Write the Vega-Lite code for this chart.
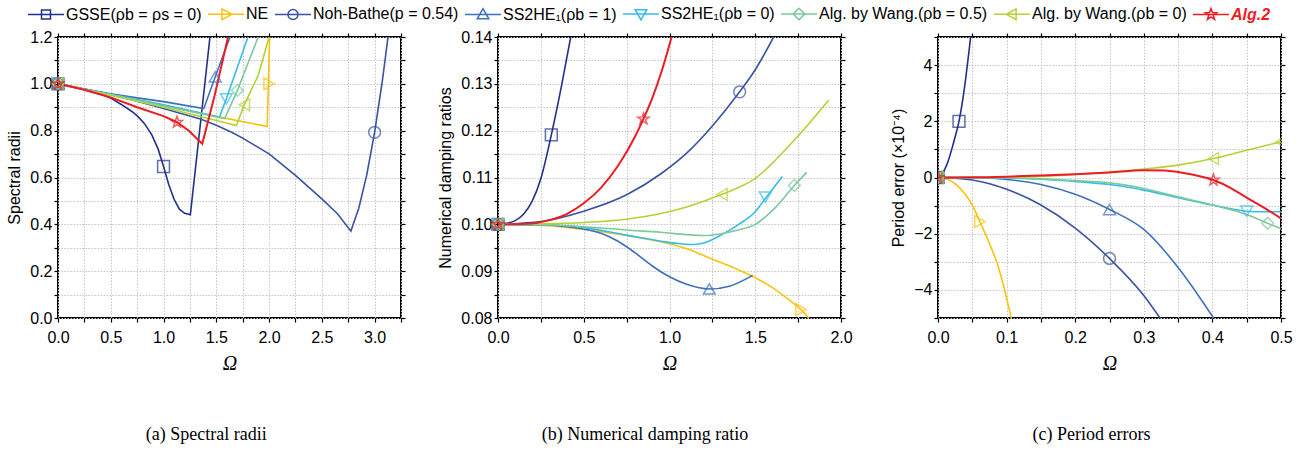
{
  "$schema": "https://vega.github.io/schema/vega-lite/v6.json",
  "padding": {"left": 5, "top": 0, "right": 10, "bottom": 2},
  "config": {
    "view": {"stroke": "black", "strokeWidth": 2},
    "font": "Liberation Sans",
    "axis": {"labelFont": "Liberation Sans", "labelFontSize": 16, "labelColor": "black", "tickColor": "black", "tickSize": 4, "tickWidth": 1.2, "domain": false, "gridColor": "#c4c4c4", "gridDash": [1.5, 1.5], "gridWidth": 1, "titleFont": "Liberation Sans", "titleFontSize": 16, "titleFontWeight": "normal", "titleColor": "black", "labelPadding": 2, "titlePadding": 7, "labelFlush": false, "labelOverlap": false, "labelBound": false},
    "axisX": {"titleFont": "Liberation Serif", "titleFontStyle": "italic", "titleFontSize": 20, "labelPadding": 7, "titlePadding": 8},
    "title": {"font": "Liberation Serif", "fontSize": 18, "fontWeight": "normal", "color": "black"}
  },
  "datasets": {
    "a": [
      {"s": "GSSE", "x": 0, "y": 1}, {"s": "GSSE", "x": 0.1, "y": 0.992}, {"s": "GSSE", "x": 0.25, "y": 0.975}, {"s": "GSSE", "x": 0.4, "y": 0.955}, {"s": "GSSE", "x": 0.5, "y": 0.939}, {"s": "GSSE", "x": 0.6, "y": 0.912}, {"s": "GSSE", "x": 0.7, "y": 0.882}, {"s": "GSSE", "x": 0.756, "y": 0.861}, {"s": "GSSE", "x": 0.82, "y": 0.83}, {"s": "GSSE", "x": 0.889, "y": 0.782}, {"s": "GSSE", "x": 0.95, "y": 0.72}, {"s": "GSSE", "x": 1.0, "y": 0.647}, {"s": "GSSE", "x": 1.05, "y": 0.569}, {"s": "GSSE", "x": 1.1, "y": 0.507}, {"s": "GSSE", "x": 1.15, "y": 0.465}, {"s": "GSSE", "x": 1.2, "y": 0.447}, {"s": "GSSE", "x": 1.254, "y": 0.441}, {"s": "GSSE", "x": 1.44, "y": 1.2},
      {"s": "NE", "x": 0, "y": 1}, {"s": "NE", "x": 0.25, "y": 0.977}, {"s": "NE", "x": 0.5, "y": 0.954}, {"s": "NE", "x": 1.0, "y": 0.908}, {"s": "NE", "x": 1.357, "y": 0.874}, {"s": "NE", "x": 1.7, "y": 0.843}, {"s": "NE", "x": 1.982, "y": 0.818}, {"s": "NE", "x": 2.005, "y": 1.2},
      {"s": "NB", "x": 0, "y": 1}, {"s": "NB", "x": 0.25, "y": 0.978}, {"s": "NB", "x": 0.5, "y": 0.954}, {"s": "NB", "x": 0.75, "y": 0.926}, {"s": "NB", "x": 1.0, "y": 0.895}, {"s": "NB", "x": 1.357, "y": 0.849}, {"s": "NB", "x": 1.5, "y": 0.823}, {"s": "NB", "x": 1.65, "y": 0.792}, {"s": "NB", "x": 1.75, "y": 0.768}, {"s": "NB", "x": 2.0, "y": 0.701}, {"s": "NB", "x": 2.25, "y": 0.609}, {"s": "NB", "x": 2.5, "y": 0.509}, {"s": "NB", "x": 2.65, "y": 0.444}, {"s": "NB", "x": 2.775, "y": 0.371}, {"s": "NB", "x": 2.85, "y": 0.469}, {"s": "NB", "x": 2.925, "y": 0.61}, {"s": "NB", "x": 3.0, "y": 0.793}, {"s": "NB", "x": 3.075, "y": 1.018}, {"s": "NB", "x": 3.127, "y": 1.2},
      {"s": "SS1", "x": 0, "y": 1}, {"s": "SS1", "x": 0.25, "y": 0.978}, {"s": "SS1", "x": 0.5, "y": 0.958}, {"s": "SS1", "x": 0.75, "y": 0.94}, {"s": "SS1", "x": 1.0, "y": 0.924}, {"s": "SS1", "x": 1.381, "y": 0.894}, {"s": "SS1", "x": 1.49, "y": 1.03}, {"s": "SS1", "x": 1.63, "y": 1.2},
      {"s": "SS0", "x": 0, "y": 1}, {"s": "SS0", "x": 0.25, "y": 0.977}, {"s": "SS0", "x": 0.5, "y": 0.955}, {"s": "SS0", "x": 1.0, "y": 0.91}, {"s": "SS0", "x": 1.53, "y": 0.858}, {"s": "SS0", "x": 1.595, "y": 0.936}, {"s": "SS0", "x": 1.8, "y": 1.2},
      {"s": "W05", "x": 0, "y": 1}, {"s": "W05", "x": 0.25, "y": 0.977}, {"s": "W05", "x": 0.5, "y": 0.954}, {"s": "W05", "x": 1.0, "y": 0.905}, {"s": "W05", "x": 1.579, "y": 0.852}, {"s": "W05", "x": 1.7, "y": 0.972}, {"s": "W05", "x": 1.897, "y": 1.2},
      {"s": "W0", "x": 0, "y": 1}, {"s": "W0", "x": 0.25, "y": 0.976}, {"s": "W0", "x": 0.5, "y": 0.951}, {"s": "W0", "x": 1.0, "y": 0.9}, {"s": "W0", "x": 1.69, "y": 0.822}, {"s": "W0", "x": 1.766, "y": 0.911}, {"s": "W0", "x": 1.897, "y": 1.036}, {"s": "W0", "x": 2.0, "y": 1.2},
      {"s": "ALG2", "x": 0, "y": 1}, {"s": "ALG2", "x": 0.25, "y": 0.975}, {"s": "ALG2", "x": 0.5, "y": 0.942}, {"s": "ALG2", "x": 0.75, "y": 0.9}, {"s": "ALG2", "x": 1.0, "y": 0.862}, {"s": "ALG2", "x": 1.127, "y": 0.836}, {"s": "ALG2", "x": 1.24, "y": 0.8}, {"s": "ALG2", "x": 1.367, "y": 0.744}, {"s": "ALG2", "x": 1.484, "y": 0.95}, {"s": "ALG2", "x": 1.611, "y": 1.2}
    ],
    "am": [
      {"s": "GSSE", "x": 0, "y": 1}, {"s": "NE", "x": 0, "y": 1}, {"s": "NB", "x": 0, "y": 1}, {"s": "SS1", "x": 0, "y": 1}, {"s": "SS0", "x": 0, "y": 1}, {"s": "W05", "x": 0, "y": 1}, {"s": "W0", "x": 0, "y": 1}, {"s": "ALG2", "x": 0, "y": 1},
      {"s": "GSSE", "x": 1.0, "y": 0.647}, {"s": "NE", "x": 2.0, "y": 1.0}, {"s": "NB", "x": 3.0, "y": 0.793}, {"s": "SS1", "x": 1.49, "y": 1.03}, {"s": "SS0", "x": 1.595, "y": 0.936}, {"s": "W05", "x": 1.7, "y": 0.972}, {"s": "W0", "x": 1.766, "y": 0.911}, {"s": "ALG2", "x": 1.127, "y": 0.836}
    ],
    "b": [
      {"s": "GSSE", "x": 0, "y": 0.1}, {"s": "GSSE", "x": 0.05, "y": 0.1002}, {"s": "GSSE", "x": 0.1, "y": 0.1008}, {"s": "GSSE", "x": 0.15, "y": 0.1022}, {"s": "GSSE", "x": 0.2, "y": 0.105}, {"s": "GSSE", "x": 0.25, "y": 0.1098}, {"s": "GSSE", "x": 0.311, "y": 0.1191}, {"s": "GSSE", "x": 0.37, "y": 0.1295}, {"s": "GSSE", "x": 0.424, "y": 0.14},
      {"s": "NE", "x": 0, "y": 0.1}, {"s": "NE", "x": 0.25, "y": 0.0998}, {"s": "NE", "x": 0.5, "y": 0.0989}, {"s": "NE", "x": 0.75, "y": 0.0976}, {"s": "NE", "x": 0.95, "y": 0.0963}, {"s": "NE", "x": 1.1, "y": 0.0948}, {"s": "NE", "x": 1.241, "y": 0.0927}, {"s": "NE", "x": 1.4, "y": 0.0903}, {"s": "NE", "x": 1.5, "y": 0.0886}, {"s": "NE", "x": 1.6, "y": 0.0865}, {"s": "NE", "x": 1.7, "y": 0.0838}, {"s": "NE", "x": 1.767, "y": 0.0818}, {"s": "NE", "x": 1.815, "y": 0.0798},
      {"s": "NB", "x": 0, "y": 0.1}, {"s": "NB", "x": 0.25, "y": 0.1006}, {"s": "NB", "x": 0.5, "y": 0.1028}, {"s": "NB", "x": 0.75, "y": 0.1063}, {"s": "NB", "x": 0.95, "y": 0.1108}, {"s": "NB", "x": 1.1, "y": 0.1152}, {"s": "NB", "x": 1.25, "y": 0.121}, {"s": "NB", "x": 1.409, "y": 0.1283}, {"s": "NB", "x": 1.5, "y": 0.133}, {"s": "NB", "x": 1.607, "y": 0.14},
      {"s": "SS1", "x": 0, "y": 0.1}, {"s": "SS1", "x": 0.25, "y": 0.0999}, {"s": "SS1", "x": 0.4, "y": 0.0995}, {"s": "SS1", "x": 0.5, "y": 0.099}, {"s": "SS1", "x": 0.6, "y": 0.0981}, {"s": "SS1", "x": 0.7, "y": 0.0964}, {"s": "SS1", "x": 0.8, "y": 0.0939}, {"s": "SS1", "x": 0.9, "y": 0.0911}, {"s": "SS1", "x": 1.0, "y": 0.0888}, {"s": "SS1", "x": 1.1, "y": 0.0872}, {"s": "SS1", "x": 1.232, "y": 0.0862}, {"s": "SS1", "x": 1.35, "y": 0.0868}, {"s": "SS1", "x": 1.485, "y": 0.0891},
      {"s": "SS0", "x": 0, "y": 0.1}, {"s": "SS0", "x": 0.25, "y": 0.0999}, {"s": "SS0", "x": 0.5, "y": 0.0993}, {"s": "SS0", "x": 0.75, "y": 0.0977}, {"s": "SS0", "x": 0.95, "y": 0.0964}, {"s": "SS0", "x": 1.05, "y": 0.0959}, {"s": "SS0", "x": 1.144, "y": 0.0957}, {"s": "SS0", "x": 1.2, "y": 0.096}, {"s": "SS0", "x": 1.31, "y": 0.0979}, {"s": "SS0", "x": 1.4, "y": 0.0999}, {"s": "SS0", "x": 1.5, "y": 0.1027}, {"s": "SS0", "x": 1.559, "y": 0.1055}, {"s": "SS0", "x": 1.658, "y": 0.1102},
      {"s": "W05", "x": 0, "y": 0.1}, {"s": "W05", "x": 0.25, "y": 0.09998}, {"s": "W05", "x": 0.5, "y": 0.0995}, {"s": "W05", "x": 0.75, "y": 0.0988}, {"s": "W05", "x": 0.95, "y": 0.0983}, {"s": "W05", "x": 1.1, "y": 0.0978}, {"s": "W05", "x": 1.2, "y": 0.0976}, {"s": "W05", "x": 1.3, "y": 0.098}, {"s": "W05", "x": 1.4, "y": 0.0988}, {"s": "W05", "x": 1.5, "y": 0.1}, {"s": "W05", "x": 1.61, "y": 0.1033}, {"s": "W05", "x": 1.728, "y": 0.1083}, {"s": "W05", "x": 1.8, "y": 0.1111},
      {"s": "W0", "x": 0, "y": 0.1}, {"s": "W0", "x": 0.25, "y": 0.1001}, {"s": "W0", "x": 0.5, "y": 0.1004}, {"s": "W0", "x": 0.75, "y": 0.1011}, {"s": "W0", "x": 0.95, "y": 0.1023}, {"s": "W0", "x": 1.1, "y": 0.1037}, {"s": "W0", "x": 1.306, "y": 0.1064}, {"s": "W0", "x": 1.5, "y": 0.1098}, {"s": "W0", "x": 1.728, "y": 0.118}, {"s": "W0", "x": 1.928, "y": 0.1265},
      {"s": "ALG2", "x": 0, "y": 0.1}, {"s": "ALG2", "x": 0.2, "y": 0.1002}, {"s": "ALG2", "x": 0.3, "y": 0.1009}, {"s": "ALG2", "x": 0.4, "y": 0.1022}, {"s": "ALG2", "x": 0.5, "y": 0.1045}, {"s": "ALG2", "x": 0.6, "y": 0.1078}, {"s": "ALG2", "x": 0.7, "y": 0.1125}, {"s": "ALG2", "x": 0.8, "y": 0.1188}, {"s": "ALG2", "x": 0.848, "y": 0.1225}, {"s": "ALG2", "x": 0.9, "y": 0.127}, {"s": "ALG2", "x": 0.95, "y": 0.1322}, {"s": "ALG2", "x": 1.0, "y": 0.1384}, {"s": "ALG2", "x": 1.012, "y": 0.14}
    ],
    "bm": [
      {"s": "GSSE", "x": 0, "y": 0.1}, {"s": "NE", "x": 0, "y": 0.1}, {"s": "NB", "x": 0, "y": 0.1}, {"s": "SS1", "x": 0, "y": 0.1}, {"s": "SS0", "x": 0, "y": 0.1}, {"s": "W05", "x": 0, "y": 0.1}, {"s": "W0", "x": 0, "y": 0.1}, {"s": "ALG2", "x": 0, "y": 0.1},
      {"s": "GSSE", "x": 0.311, "y": 0.1191}, {"s": "NE", "x": 1.767, "y": 0.0818}, {"s": "NB", "x": 1.409, "y": 0.1283}, {"s": "SS1", "x": 1.232, "y": 0.0862}, {"s": "SS0", "x": 1.559, "y": 0.1058}, {"s": "W05", "x": 1.728, "y": 0.1083}, {"s": "W0", "x": 1.306, "y": 0.1064}, {"s": "ALG2", "x": 0.848, "y": 0.1225}
    ],
    "c": [
      {"s": "GSSE", "x": 0, "y": 0}, {"s": "GSSE", "x": 0.005, "y": 0.1}, {"s": "GSSE", "x": 0.01, "y": 0.3}, {"s": "GSSE", "x": 0.015, "y": 0.6}, {"s": "GSSE", "x": 0.02, "y": 1.0}, {"s": "GSSE", "x": 0.025, "y": 1.45}, {"s": "GSSE", "x": 0.0306, "y": 2.0}, {"s": "GSSE", "x": 0.035, "y": 2.6}, {"s": "GSSE", "x": 0.04, "y": 3.45}, {"s": "GSSE", "x": 0.045, "y": 4.45}, {"s": "GSSE", "x": 0.048, "y": 5.1},
      {"s": "NE", "x": 0, "y": 0}, {"s": "NE", "x": 0.017, "y": -0.1}, {"s": "NE", "x": 0.0366, "y": -0.51}, {"s": "NE", "x": 0.05, "y": -0.98}, {"s": "NE", "x": 0.061, "y": -1.57}, {"s": "NE", "x": 0.075, "y": -2.35}, {"s": "NE", "x": 0.0855, "y": -3.0}, {"s": "NE", "x": 0.095, "y": -3.8}, {"s": "NE", "x": 0.1024, "y": -4.54}, {"s": "NE", "x": 0.1074, "y": -5.05},
      {"s": "NB", "x": 0, "y": 0}, {"s": "NB", "x": 0.05, "y": -0.09}, {"s": "NB", "x": 0.1, "y": -0.42}, {"s": "NB", "x": 0.15, "y": -0.98}, {"s": "NB", "x": 0.2, "y": -1.8}, {"s": "NB", "x": 0.25, "y": -2.88}, {"s": "NB", "x": 0.3, "y": -4.2}, {"s": "NB", "x": 0.325, "y": -5.05},
      {"s": "SS1", "x": 0, "y": 0}, {"s": "SS1", "x": 0.05, "y": -0.01}, {"s": "SS1", "x": 0.1, "y": -0.07}, {"s": "SS1", "x": 0.15, "y": -0.25}, {"s": "SS1", "x": 0.2, "y": -0.6}, {"s": "SS1", "x": 0.25, "y": -1.14}, {"s": "SS1", "x": 0.3, "y": -1.85}, {"s": "SS1", "x": 0.35, "y": -3.2}, {"s": "SS1", "x": 0.403, "y": -5.05},
      {"s": "SS0", "x": 0, "y": 0}, {"s": "SS0", "x": 0.1, "y": -0.02}, {"s": "SS0", "x": 0.15, "y": -0.06}, {"s": "SS0", "x": 0.2, "y": -0.14}, {"s": "SS0", "x": 0.25, "y": -0.25}, {"s": "SS0", "x": 0.3, "y": -0.45}, {"s": "SS0", "x": 0.35, "y": -0.72}, {"s": "SS0", "x": 0.4, "y": -0.98}, {"s": "SS0", "x": 0.45, "y": -1.2}, {"s": "SS0", "x": 0.475, "y": -1.22}, {"s": "SS0", "x": 0.5, "y": -1.22},
      {"s": "W05", "x": 0, "y": 0}, {"s": "W05", "x": 0.1, "y": -0.01}, {"s": "W05", "x": 0.15, "y": -0.05}, {"s": "W05", "x": 0.2, "y": -0.11}, {"s": "W05", "x": 0.25, "y": -0.19}, {"s": "W05", "x": 0.3, "y": -0.39}, {"s": "W05", "x": 0.35, "y": -0.69}, {"s": "W05", "x": 0.4, "y": -0.98}, {"s": "W05", "x": 0.45, "y": -1.32}, {"s": "W05", "x": 0.4805, "y": -1.63}, {"s": "W05", "x": 0.5, "y": -1.82},
      {"s": "W0", "x": 0, "y": 0}, {"s": "W0", "x": 0.1, "y": 0.01}, {"s": "W0", "x": 0.15, "y": 0.04}, {"s": "W0", "x": 0.2, "y": 0.11}, {"s": "W0", "x": 0.25, "y": 0.19}, {"s": "W0", "x": 0.3, "y": 0.3}, {"s": "W0", "x": 0.35, "y": 0.44}, {"s": "W0", "x": 0.4015, "y": 0.675}, {"s": "W0", "x": 0.45, "y": 0.97}, {"s": "W0", "x": 0.5, "y": 1.27},
      {"s": "ALG2", "x": 0, "y": 0}, {"s": "ALG2", "x": 0.05, "y": 0.005}, {"s": "ALG2", "x": 0.1, "y": 0.03}, {"s": "ALG2", "x": 0.15, "y": 0.07}, {"s": "ALG2", "x": 0.2, "y": 0.12}, {"s": "ALG2", "x": 0.25, "y": 0.18}, {"s": "ALG2", "x": 0.3, "y": 0.26}, {"s": "ALG2", "x": 0.33, "y": 0.25}, {"s": "ALG2", "x": 0.36, "y": 0.15}, {"s": "ALG2", "x": 0.38, "y": 0.05}, {"s": "ALG2", "x": 0.4015, "y": -0.09}, {"s": "ALG2", "x": 0.43, "y": -0.42}, {"s": "ALG2", "x": 0.45, "y": -0.72}, {"s": "ALG2", "x": 0.475, "y": -1.07}, {"s": "ALG2", "x": 0.5, "y": -1.46}
    ],
    "cm": [
      {"s": "GSSE", "x": 0, "y": 0}, {"s": "NE", "x": 0, "y": 0}, {"s": "NB", "x": 0, "y": 0}, {"s": "SS1", "x": 0, "y": 0}, {"s": "SS0", "x": 0, "y": 0}, {"s": "W05", "x": 0, "y": 0}, {"s": "W0", "x": 0, "y": 0}, {"s": "ALG2", "x": 0, "y": 0},
      {"s": "GSSE", "x": 0.0306, "y": 2.0}, {"s": "NE", "x": 0.061, "y": -1.57}, {"s": "NB", "x": 0.25, "y": -2.88}, {"s": "SS1", "x": 0.25, "y": -1.14}, {"s": "SS0", "x": 0.45, "y": -1.2}, {"s": "W05", "x": 0.4805, "y": -1.63}, {"s": "W0", "x": 0.4015, "y": 0.675}, {"s": "W0", "x": 0.5, "y": 1.27}, {"s": "ALG2", "x": 0.4015, "y": -0.09}
    ]
  },
  "bounds": "flush",
  "spacing": 97,
  "hconcat": [
    {
      "width": 343, "height": 281,
      "title": {"text": "(a) Spectral radii", "orient": "bottom", "anchor": "middle", "frame": "bounds", "offset": 53},
      "resolve": {"axis": {"x": "independent", "y": "independent"}},
      "layer": [
        {
          "data": {"name": "a"},
          "mark": {"type": "line", "clip": true},
          "encoding": {
            "x": {"field": "x", "type": "quantitative", "scale": {"domain": [0, 3.25], "nice": false, "zero": false}, "axis": {"title": "Ω", "values": [0, 0.25, 0.5, 0.75, 1, 1.25, 1.5, 1.75, 2, 2.25, 2.5, 2.75, 3, 3.25], "labelExpr": "round(datum.value*4) % 2 == 0 ? format(datum.value, '.1f') : ''", "grid": true}},
            "y": {"field": "y", "type": "quantitative", "scale": {"domain": [0, 1.2], "nice": false, "zero": false}, "axis": {"title": "Spectral radii", "values": [0, 0.1, 0.2, 0.3, 0.4, 0.5, 0.6, 0.7, 0.8, 0.9, 1.0, 1.1, 1.2], "labelExpr": "round(datum.value*10) % 2 == 0 ? format(datum.value, '.1f') : ''", "grid": true}},
            "color": {"field": "s", "type": "nominal", "scale": {"domain": ["GSSE", "NE", "NB", "SS1", "SS0", "W05", "W0", "ALG2"], "range": ["#23308b", "#fbc20d", "#3a52a3", "#3d70bb", "#35bde9", "#7ec99c", "#b3d234", "#ed1c24"]},
              "legend": {"orient": "none", "legendX": -26, "legendY": -37, "direction": "horizontal", "columns": 8, "title": null, "padding": 0, "symbolSize": 660, "symbolStrokeWidth": 1.5, "symbolFillColor": "transparent", "labelFont": "Liberation Sans", "labelFontSize": 16, "labelOffset": 6, "columnPadding": 3, "labelLimit": 300,
                "labelExpr": "{'GSSE': 'GSSE(ρb = ρs = 0)', 'NE': 'NE', 'NB': 'Noh-Bathe(p = 0.54)', 'SS1': 'SS2HE₁(ρb = 1)', 'SS0': 'SS2HE₁(ρb = 0)', 'W05': 'Alg. by Wang.(ρb = 0.5)', 'W0': 'Alg. by Wang.(ρb = 0)', 'ALG2': 'Alg.2'}[datum.label]",
                "symbolType": {"expr": "{'GSSE': 'M-1.4,0H1.4M-0.35,-0.35H0.35V0.35H-0.35Z', 'NE': 'M-1.4,0H1.4M-0.32,-0.42L0.45,0L-0.32,0.42Z', 'NB': 'M-1.4,0H1.4M0.39,0A0.39,0.39,0,1,1,-0.39,0A0.39,0.39,0,1,1,0.39,0', 'SS1': 'M-1.4,0H1.4M0,-0.45L0.45,0.34L-0.45,0.34Z', 'SS0': 'M-1.4,0H1.4M0,0.45L0.45,-0.34L-0.45,-0.34Z', 'W05': 'M-1.4,0H1.4M0,-0.45L0.45,0L0,0.45L-0.45,0Z', 'W0': 'M-1.4,0H1.4M0.32,-0.42L-0.45,0L0.32,0.42Z', 'ALG2': 'M-1.4,0H1.4M0,-0.47L0.11,-0.152L0.447,-0.145L0.179,0.058L0.276,0.38L0,0.188L-0.276,0.38L-0.179,0.058L-0.447,-0.145L-0.11,-0.152Z'}[datum.value]"},
                "labelColor": {"expr": "datum.value == 'ALG2' ? '#ed1c24' : 'black'"},
                "labelFontWeight": {"expr": "datum.value == 'ALG2' ? 'bold' : 'normal'"},
                "labelFontStyle": {"expr": "datum.value == 'ALG2' ? 'italic' : 'normal'"}
              }
            },
            "strokeWidth": {"condition": {"test": "datum.s == 'ALG2'", "value": 2}, "value": 1.6}
          }
        },
        {
          "data": {"name": "am"},
          "mark": {"type": "point", "filled": false, "size": 140, "strokeWidth": 1.5, "clip": false},
          "encoding": {
            "x": {"field": "x", "type": "quantitative", "axis": {"orient": "top", "title": null, "labels": false, "grid": false, "values": [0, 0.25, 0.5, 0.75, 1, 1.25, 1.5, 1.75, 2, 2.25, 2.5, 2.75, 3, 3.25]}},
            "y": {"field": "y", "type": "quantitative", "axis": {"orient": "right", "title": null, "labels": false, "grid": false, "values": [0, 0.1, 0.2, 0.3, 0.4, 0.5, 0.6, 0.7, 0.8, 0.9, 1.0, 1.1, 1.2]}},
            "color": {"field": "s", "type": "nominal", "legend": null},
            "shape": {"condition": [{"test": "datum.s == 'GSSE'", "value": "square"}, {"test": "datum.s == 'NE'", "value": "triangle-right"}, {"test": "datum.s == 'NB'", "value": "circle"}, {"test": "datum.s == 'SS1'", "value": "triangle-up"}, {"test": "datum.s == 'SS0'", "value": "triangle-down"}, {"test": "datum.s == 'W05'", "value": "diamond"}, {"test": "datum.s == 'W0'", "value": "triangle-left"}], "value": "M0,-1L0.235,-0.324L0.951,-0.309L0.38,0.124L0.588,0.809L0,0.4L-0.588,0.809L-0.38,0.124L-0.951,-0.309L-0.235,-0.324Z"}
          }
        }
      ]
    },
    {
      "width": 343, "height": 281,
      "title": {"text": "(b) Numerical damping ratio", "orient": "bottom", "anchor": "middle", "frame": "bounds", "offset": 53},
      "resolve": {"axis": {"x": "independent", "y": "independent"}},
      "layer": [
        {
          "data": {"name": "b"},
          "mark": {"type": "line", "clip": true, "interpolate": "monotone"},
          "encoding": {
            "x": {"field": "x", "type": "quantitative", "scale": {"domain": [0, 2], "nice": false, "zero": false}, "axis": {"title": "Ω", "values": [0, 0.25, 0.5, 0.75, 1, 1.25, 1.5, 1.75, 2], "labelExpr": "round(datum.value*4) % 2 == 0 ? format(datum.value, '.1f') : ''", "grid": true}},
            "y": {"field": "y", "type": "quantitative", "scale": {"domain": [0.08, 0.14], "nice": false, "zero": false}, "axis": {"title": "Numerical damping ratios", "values": [0.08, 0.085, 0.09, 0.095, 0.1, 0.105, 0.11, 0.115, 0.12, 0.125, 0.13, 0.135, 0.14], "labelExpr": "round(datum.value*1000) % 10 == 0 ? format(datum.value, '.2f') : ''", "grid": true}},
            "color": {"field": "s", "type": "nominal", "legend": null},
            "strokeWidth": {"condition": {"test": "datum.s == 'ALG2'", "value": 2}, "value": 1.6}
          }
        },
        {
          "data": {"name": "bm"},
          "mark": {"type": "point", "filled": false, "size": 140, "strokeWidth": 1.5, "clip": false},
          "encoding": {
            "x": {"field": "x", "type": "quantitative", "axis": {"orient": "top", "title": null, "labels": false, "grid": false, "values": [0, 0.25, 0.5, 0.75, 1, 1.25, 1.5, 1.75, 2]}},
            "y": {"field": "y", "type": "quantitative", "axis": {"orient": "right", "title": null, "labels": false, "grid": false, "values": [0.08, 0.085, 0.09, 0.095, 0.1, 0.105, 0.11, 0.115, 0.12, 0.125, 0.13, 0.135, 0.14]}},
            "color": {"field": "s", "type": "nominal", "legend": null},
            "shape": {"condition": [{"test": "datum.s == 'GSSE'", "value": "square"}, {"test": "datum.s == 'NE'", "value": "triangle-right"}, {"test": "datum.s == 'NB'", "value": "circle"}, {"test": "datum.s == 'SS1'", "value": "triangle-up"}, {"test": "datum.s == 'SS0'", "value": "triangle-down"}, {"test": "datum.s == 'W05'", "value": "diamond"}, {"test": "datum.s == 'W0'", "value": "triangle-left"}], "value": "M0,-1L0.235,-0.324L0.951,-0.309L0.38,0.124L0.588,0.809L0,0.4L-0.588,0.809L-0.38,0.124L-0.951,-0.309L-0.235,-0.324Z"}
          }
        }
      ]
    },
    {
      "width": 343, "height": 281,
      "title": {"text": "(c) Period errors", "orient": "bottom", "anchor": "middle", "frame": "bounds", "offset": 53},
      "resolve": {"axis": {"x": "independent", "y": "independent"}},
      "layer": [
        {
          "data": {"name": "c"},
          "mark": {"type": "line", "clip": true, "interpolate": "monotone"},
          "encoding": {
            "x": {"field": "x", "type": "quantitative", "scale": {"domain": [0, 0.5], "nice": false, "zero": false}, "axis": {"title": "Ω", "values": [0, 0.05, 0.1, 0.15, 0.2, 0.25, 0.3, 0.35, 0.4, 0.45, 0.5], "labelExpr": "round(datum.value*100) % 10 == 0 ? format(datum.value, '.1f') : ''", "grid": true}},
            "y": {"field": "y", "type": "quantitative", "scale": {"domain": [-5, 5], "nice": false, "zero": false}, "axis": {"title": "Period error (×10⁻⁴)", "values": [-5, -4, -3, -2, -1, 0, 1, 2, 3, 4, 5], "labelExpr": "datum.value % 2 == 0 ? format(datum.value, 'd') : ''", "grid": true}},
            "color": {"field": "s", "type": "nominal", "legend": null},
            "strokeWidth": {"condition": {"test": "datum.s == 'ALG2'", "value": 2}, "value": 1.6}
          }
        },
        {
          "data": {"name": "cm"},
          "mark": {"type": "point", "filled": false, "size": 140, "strokeWidth": 1.5, "clip": true},
          "encoding": {
            "x": {"field": "x", "type": "quantitative", "axis": {"orient": "top", "title": null, "labels": false, "grid": false, "values": [0, 0.05, 0.1, 0.15, 0.2, 0.25, 0.3, 0.35, 0.4, 0.45, 0.5]}},
            "y": {"field": "y", "type": "quantitative", "axis": {"orient": "right", "title": null, "labels": false, "grid": false, "values": [-5, -4, -3, -2, -1, 0, 1, 2, 3, 4, 5]}},
            "color": {"field": "s", "type": "nominal", "legend": null},
            "shape": {"condition": [{"test": "datum.s == 'GSSE'", "value": "square"}, {"test": "datum.s == 'NE'", "value": "triangle-right"}, {"test": "datum.s == 'NB'", "value": "circle"}, {"test": "datum.s == 'SS1'", "value": "triangle-up"}, {"test": "datum.s == 'SS0'", "value": "triangle-down"}, {"test": "datum.s == 'W05'", "value": "diamond"}, {"test": "datum.s == 'W0'", "value": "triangle-left"}], "value": "M0,-1L0.235,-0.324L0.951,-0.309L0.38,0.124L0.588,0.809L0,0.4L-0.588,0.809L-0.38,0.124L-0.951,-0.309L-0.235,-0.324Z"}
          }
        }
      ]
    }
  ]
}
